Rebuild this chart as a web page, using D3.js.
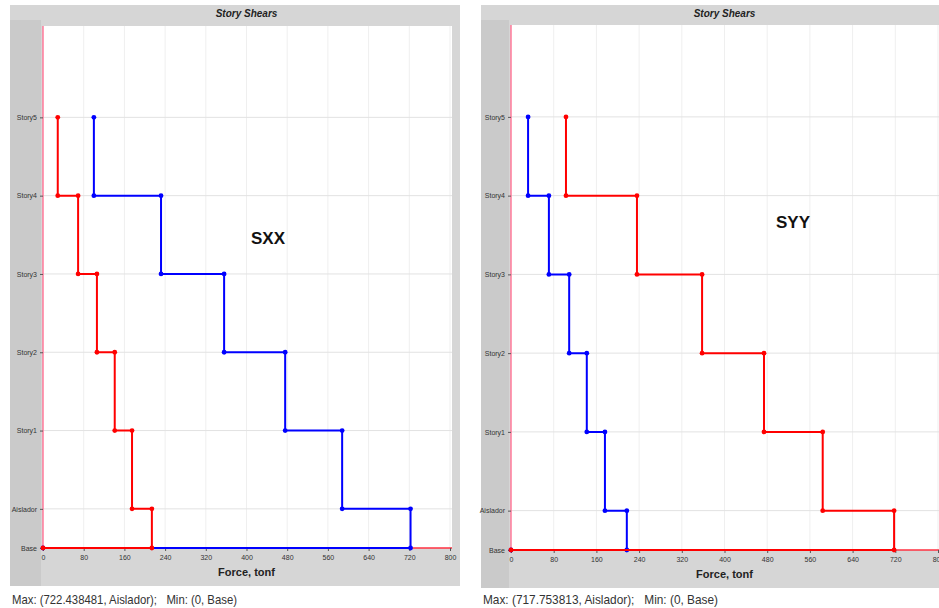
<!DOCTYPE html>
<html><head><meta charset="utf-8">
<script src="https://cdn.jsdelivr.net/npm/d3@7"></script>
<style>body{margin:0;background:#fff;}svg{display:block;font-family:"Liberation Sans",Arial,sans-serif;}</style>
</head><body><svg id="c" width="939" height="608"></svg>
<script>
const stories = ["Story5","Story4","Story3","Story2","Story1","Aislador","Base"];
const elevations = [16.5,13.5,10.5,7.5,4.5,1.5,0];
const xTicks = [0,80,160,240,320,400,480,560,640,720,800];
// shear per story (Story5 .. Aislador), tonf
const sxxBlue = [100,232,356,476,588,722.44];
const sxxRed  = [29,69,106,141,175,214];
const syyRed  = [103,236,358,474,584,717.75];
const syyBlue = [32,71,109,142,176,217];
const panelTitles = ["Story Shears","Story Shears"];
const caseLabels = ["SXX","SYY"];
const statusTexts = ["Max: (722.438481, Aislador);   Min: (0, Base)","Max: (717.753813, Aislador);   Min: (0, Base)"];

const svg = d3.select("#c");

function stepPoints(vals){
  const pts=[];
  vals.forEach((v,i)=>{pts.push([v,elevations[i]]);pts.push([v,elevations[i+1]]);});
  pts.push([0,elevations[elevations.length-1]]);
  return pts;
}

function panel(o){
  const g = svg.append("g");
  g.append("rect").attr("x",o.px0).attr("y",5).attr("width",o.px1-o.px0).attr("height",o.py1-5).attr("fill","#d6d6d6");
  g.append("rect").attr("x",o.px0).attr("y",20).attr("width",o.x0-o.px0-2).attr("height",o.py1-20).attr("fill","#cacaca");
  const x = d3.scaleLinear().domain([0,800]).range([o.x0,o.x1]);
  const y = d3.scaleLinear().domain([0,20]).range([o.yb,o.yt]);
  g.append("rect").attr("x",o.x0).attr("y",o.yt).attr("width",o.pr-o.x0).attr("height",o.yb-o.yt).attr("fill","#fff");
  // grid
  g.selectAll(".vg").data(xTicks.slice(1)).join("line")
    .attr("x1",d=>x(d)).attr("x2",d=>x(d)).attr("y1",o.yt).attr("y2",o.yb)
    .attr("stroke","#efefef").attr("stroke-width",1);
  g.selectAll(".hg").data(elevations.slice(0,6)).join("line")
    .attr("x1",o.x0).attr("x2",o.pr).attr("y1",d=>y(d)).attr("y2",d=>y(d))
    .attr("stroke","#e2e2e2").attr("stroke-width",1);
  // axes lines
  g.append("line").attr("x1",o.x0).attr("x2",o.x0).attr("y1",o.yt).attr("y2",o.yb).attr("stroke","#ff7a9a").attr("stroke-width",1.5);
  g.append("line").attr("x1",o.x0).attr("x2",o.pr).attr("y1",o.yb).attr("y2",o.yb).attr("stroke","#ff3040").attr("stroke-width",1.5);
  // x ticks
  const xa = g.append("g").attr("transform",`translate(0,${o.yb})`)
    .call(d3.axisBottom(x).tickValues(xTicks).tickSize(3).tickPadding(4).tickFormat(d3.format("d")));
  xa.select(".domain").remove();
  xa.selectAll("line").attr("stroke","#555");
  xa.selectAll("text").attr("font-size",7).attr("fill","#333");
  // y ticks
  const ya = g.append("g").attr("transform",`translate(${o.x0},0)`)
    .call(d3.axisLeft(y).tickValues(elevations).tickSize(3).tickPadding(3).tickFormat((d,i)=>stories[i]));
  ya.select(".domain").remove();
  ya.selectAll("line").attr("stroke","#555");
  ya.selectAll("text").attr("font-size",7).attr("fill","#333");
  // series
  const line = d3.line().x(d=>x(d[0])).y(d=>y(d[1]));
  o.series.forEach(s=>{
    const pts = stepPoints(s.vals);
    g.append("path").attr("d",line(pts)).attr("fill","none").attr("stroke",s.color).attr("stroke-width",2);
    g.selectAll(null).data(pts).join("circle").attr("cx",d=>x(d[0])).attr("cy",d=>y(d[1])).attr("r",2.4).attr("fill",s.color);
  });
  g.append("text").attr("x",(o.x0+o.x1)/2).attr("y",17).attr("text-anchor","middle")
    .attr("font-size",10).attr("font-weight","bold").attr("font-style","italic").attr("fill","#222").text(o.title);
  g.append("text").attr("x",(o.x0+o.x1)/2).attr("y",o.yb+28).attr("text-anchor","middle")
    .attr("font-size",11).attr("font-weight","bold").attr("fill","#222").text("Force, tonf");
  g.append("text").attr("x",o.lx).attr("y",o.ly).attr("text-anchor","middle")
    .attr("font-size",17).attr("font-weight","bold").attr("fill","#111").text(o.label);
  g.append("text").attr("x",o.px0+2).attr("y",604)
    .attr("font-size",13).attr("fill","#333").style("white-space","pre")
    .attr("textLength",o.sw).attr("lengthAdjust","spacingAndGlyphs").text(o.status);
}

panel({px0:10,px1:460,py1:586,x0:43,x1:450,pr:452,yt:26,yb:548,title:panelTitles[0],label:caseLabels[0],lx:268,ly:244,status:statusTexts[0],sw:225,
  series:[{vals:sxxBlue,color:"#0000ff"},{vals:sxxRed,color:"#ff0000"}]});
panel({px0:481,px1:945,py1:588,x0:511,x1:938,pr:945,yt:25,yb:550,title:panelTitles[1],label:caseLabels[1],lx:793,ly:228,status:statusTexts[1],sw:235,
  series:[{vals:syyBlue,color:"#0000ff"},{vals:syyRed,color:"#ff0000"}]});
</script></body></html>
